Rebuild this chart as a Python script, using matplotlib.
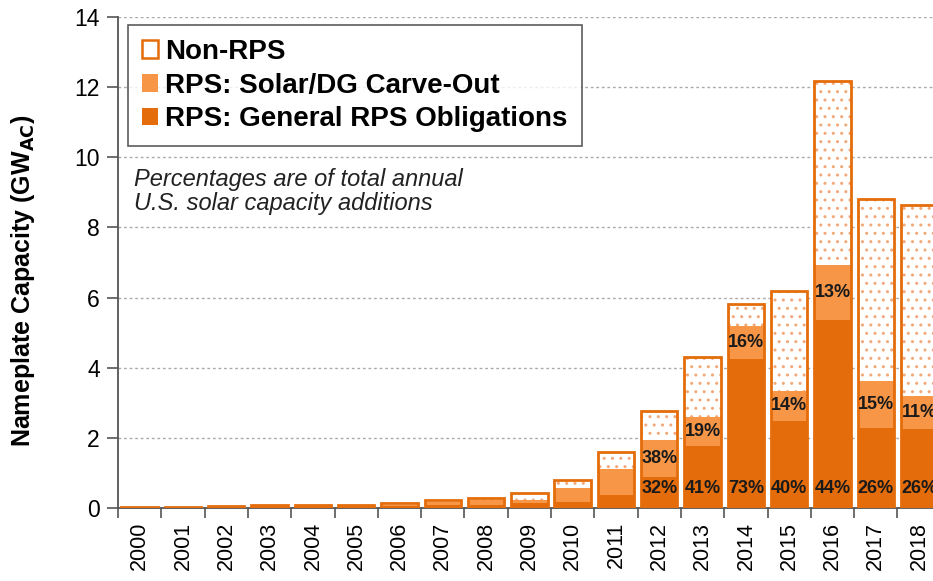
import numpy as np
import matplotlib
matplotlib.use("Agg")
import matplotlib.pyplot as plt
from matplotlib.patches import Patch

plt.rcParams["font.family"] = ["Liberation Sans", "DejaVu Sans"]

years = [str(y) for y in range(2000, 2019)]
total = [0.04, 0.04, 0.05, 0.08, 0.08, 0.08, 0.13, 0.23, 0.29, 0.44, 0.80,
         1.60, 2.77, 4.31, 5.82, 6.20, 12.18, 8.81, 8.64]
general = [0.02, 0.02, 0.02, 0.03, 0.03, 0.03, 0.05, 0.08, 0.10, 0.14, 0.18,
           0.37, 0.89, 1.77, 4.25, 2.48, 5.36, 2.29, 2.25]
carveout = [0.00, 0.01, 0.02, 0.03, 0.03, 0.03, 0.05, 0.09, 0.12, 0.08, 0.38,
            0.74, 1.05, 0.82, 0.93, 0.87, 1.58, 1.32, 0.95]
pct_general = {"2012": "32%", "2013": "41%", "2014": "73%", "2015": "40%",
               "2016": "44%", "2017": "26%", "2018": "26%"}
pct_carveout = {"2012": "38%", "2013": "19%", "2014": "16%", "2015": "14%",
                "2016": "13%", "2017": "15%", "2018": "11%"}

c_gen = "#E46C0A"
c_carve = "#F79646"
c_dots = "#F2A878"

total = np.array(total)
general = np.array(general)
carveout = np.array(carveout)
nonrps = total - general - carveout
x = np.arange(len(years))
w = 0.84

fig = plt.figure(figsize=(9.33, 5.81), dpi=100)
ax = fig.add_axes([0.1265, 0.1256, 0.8818, 0.845])

ax.bar(x, general, w, color=c_gen, linewidth=0, zorder=3)
ax.bar(x, carveout, w, bottom=general, color=c_carve, linewidth=0, zorder=3)
ax.bar(x, nonrps, w, bottom=general + carveout, color="white", edgecolor=c_dots,
       hatch="..", linewidth=0, zorder=3)
ax.bar(x, total, w, fill=False, edgecolor=c_gen, linewidth=2, zorder=4)

for i, yr in enumerate(years):
    if yr in pct_general:
        ax.text(i, 0.55, pct_general[yr], ha="center", va="center",
                fontsize=13, fontweight="bold", color="#1a1a1a", zorder=5)
    if yr in pct_carveout:
        ax.text(i, general[i] + carveout[i] / 2, pct_carveout[yr], ha="center",
                va="center", fontsize=13, fontweight="bold", color="#1a1a1a", zorder=5)

ax.set_xlim(-0.5, len(years) - 0.5)
ax.set_ylim(0, 14)
ax.set_yticks(np.arange(0, 15, 2))
ax.tick_params(axis="y", labelsize=16.5, length=8, width=1.2, color="#555555", pad=5)
ax.set_xticks(x)
ax.set_xticklabels(years, rotation=90, fontsize=15.5)
ax.tick_params(axis="x", which="major", length=0, pad=10)
ax.set_xticks(np.arange(-0.5, len(years), 1), minor=True)
ax.tick_params(axis="x", which="minor", length=7, width=1.2, color="#555555")
ax.grid(axis="y", linestyle=(0, (2, 2)), color="#aaaaaa", linewidth=1, zorder=0)
ax.set_axisbelow(True)
for s in ["top", "right"]:
    ax.spines[s].set_visible(False)
ax.spines["left"].set_color("#555555")
ax.spines["left"].set_linewidth(1.3)
ax.spines["bottom"].set_color("#555555")
ax.spines["bottom"].set_linewidth(1.3)

ax.set_ylabel("Nameplate Capacity (GW$_{\\mathbf{AC}}$)", fontsize=18,
              fontweight="bold")
ax.yaxis.set_label_coords(-0.099, 0.462)

handles = [Patch(facecolor="white", edgecolor=c_gen, linewidth=1.8),
           Patch(facecolor=c_carve, linewidth=0),
           Patch(facecolor=c_gen, linewidth=0)]
labels = ["Non-RPS", "RPS: Solar/DG Carve-Out", "RPS: General RPS Obligations"]
leg = ax.legend(handles, labels, loc="upper left", bbox_to_anchor=(0.012, 0.984),
                borderaxespad=0,
                prop={"weight": "bold", "size": 20}, frameon=True, fancybox=False,
                edgecolor="#333333", handlelength=0.6, handleheight=0.6,
                handletextpad=0.25, labelspacing=0.28, borderpad=0.5)
leg.get_frame().set_linewidth(1.2)
leg.set_zorder(6)

ax.text(-0.12, 9.7, "Percentages are of total annual\nU.S. solar capacity additions",
        fontsize=17, style="italic", color="#222222", va="top", ha="left",
        linespacing=1.05)

fig.savefig("out.png", dpi=100)
